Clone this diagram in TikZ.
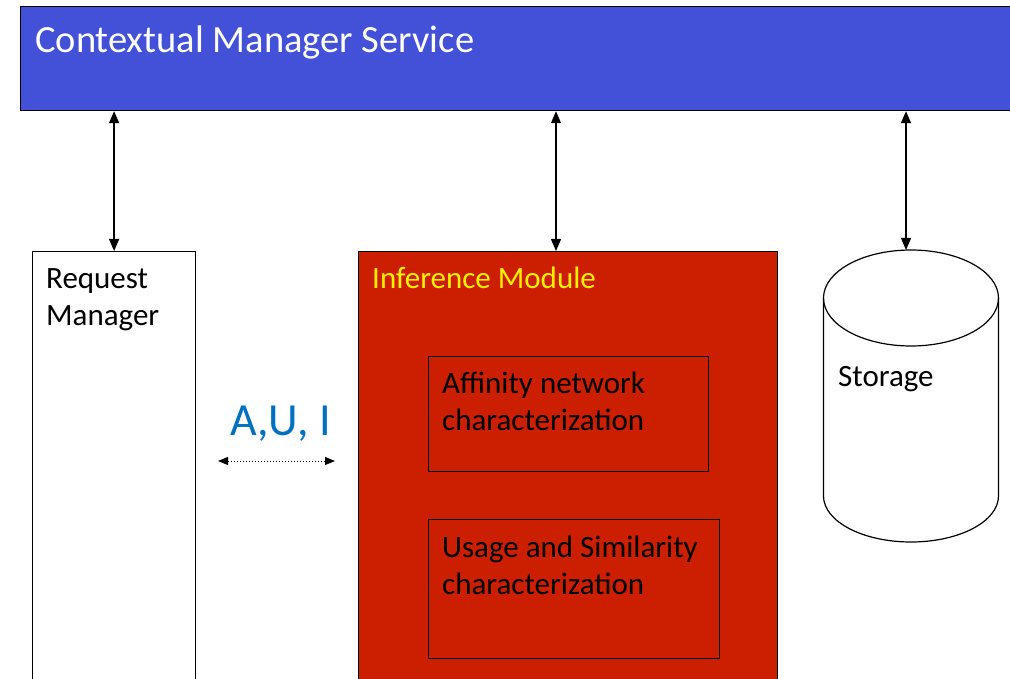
\documentclass[tikz,border=0pt]{standalone}
\usepackage{fontspec}
\setmainfont{Carlito}
\usetikzlibrary{arrows.meta}
\definecolor{cmblue}{RGB}{67,80,216}
\definecolor{infred}{RGB}{204,30,0}
\definecolor{aulabel}{RGB}{0,112,192}
\tikzset{
  panel/.style={draw=black, line width=1.2pt, anchor=north west, inner sep=0pt},
  label/.style={anchor=base west, inner sep=0pt, align=left, font=\fontsize{31}{37}\selectfont},
  biarrow/.style={line width=1.3pt, {Triangle[width=10pt,length=12pt]}-{Triangle[width=10pt,length=12pt]}},
  dotarrow/.style={line width=1pt, dotted, {Triangle[width=8pt,length=10pt]}-{Triangle[width=8pt,length=10pt]}},
}
\begin{document}
\begin{tikzpicture}[x=1pt,y=-1pt]
\useasboundingbox (0,0) rectangle (1010,679);
\clip (0,0) rectangle (1010,679);
\fill[white] (0,0) rectangle (1010,679);

% Contextual Manager Service bar
\node[panel, fill=cmblue, minimum width=1010, minimum height=104] (cms) at (20,6) {};
\node[label, text=white, font=\fontsize{38.5}{44}\selectfont] (cmstext) at (35,53) {Contextual Manager Service};

% Request Manager (anchored at the baseline of its last line)
\node[panel, fill=white, minimum width=163, minimum height=460] (reqmgr) at (32,251) {};
\node[label] (reqtext) at (46,325) {Request\\Manager};

% Inference Module
\node[panel, fill=infred, minimum width=419, minimum height=460] (inf) at (358,251) {};
\node[label, text=yellow] (inftext) at (372,288) {Inference Module};

\node[panel, fill=infred, minimum width=280, minimum height=115] (aff) at (428,356) {};
\node[label] (afftext) at (442,430) {Affinity network\\characterization};

\node[panel, fill=infred, minimum width=291, minimum height=139] (usage) at (428,519) {};
\node[label] (usagetext) at (442,594) {Usage and Similarity\\characterization};

% Storage cylinder
\draw[line width=1.2pt, fill=white] (823.5,298) -- (823.5,496)
  arc[start angle=180, end angle=360, x radius=87.5pt, y radius=46pt] -- (998.5,298);
\draw[line width=1.2pt] (911,298) ellipse[x radius=87.5pt, y radius=48pt];
\coordinate (sttop) at (906,250);
\node[label] (storage) at (838,386) {Storage};

% links to the service bar
\coordinate (inftop) at (556,251);
\draw[biarrow] (cms.south -| reqmgr.north) -- (reqmgr.north);
\draw[biarrow] (cms.south -| inftop) -- (inftop);
\draw[biarrow] (cms.south -| sttop) -- (sttop);

% A,U,I exchange
\node[label, text=aulabel, font=\fontsize{46}{52}\selectfont] (aui) at (230,435) {A,U, I};
\coordinate (auil) at (218,461);
\coordinate (auir) at (335,461);
\draw[dotarrow] (auil) -- (auir);
\end{tikzpicture}
\end{document}
